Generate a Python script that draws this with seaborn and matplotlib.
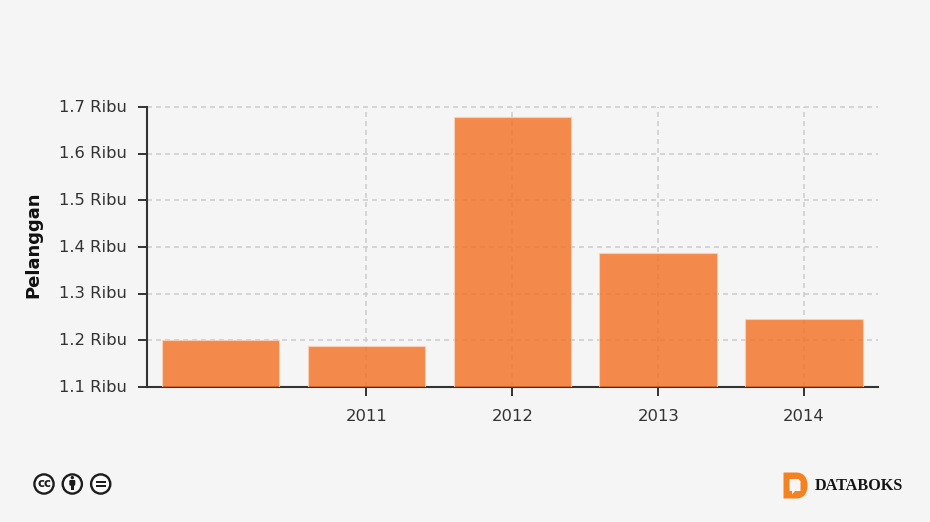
"""Pelanggan per tahun, bar chart in databoks style."""

import matplotlib.pyplot as plt
import pandas as pd
import seaborn as sns
from matplotlib.patches import Circle, FancyBboxPatch, PathPatch, Polygon, Rectangle
from matplotlib.path import Path
from matplotlib.transforms import ScaledTranslation

categories = ["2010", "2011", "2012", "2013", "2014"]
values = [1.2, 1.188, 1.678, 1.387, 1.246]
shown_years = ["2011", "2012", "2013", "2014"]
y_ticks = [1.1, 1.2, 1.3, 1.4, 1.5, 1.6, 1.7]
y_labels = ["1.1 Ribu", "1.2 Ribu", "1.3 Ribu", "1.4 Ribu", "1.5 Ribu", "1.6 Ribu", "1.7 Ribu"]

BG = "#f5f5f5"
W, H = 930, 522


def px_rect(x0, y0, x1, y1):
    return [x0 / W, 1 - y1 / H, (x1 - x0) / W, (y1 - y0) / H]


def draw_cc_icons(fig):
    # overlay axes in pixel coordinates, y pointing down
    ov = fig.add_axes([0, 0, 1, 1], zorder=5)
    ov.set_xlim(0, W)
    ov.set_ylim(H, 0)
    ov.axis("off")
    ink = "#1c1c1c"
    for cx in (44, 72.3, 100.7):
        ov.add_patch(Circle((cx, 484), 9.6, fc="#fbfbfb", ec=ink, lw=1.7))
    ov.text(44, 483.4, "cc", ha="center", va="center", fontsize=8.5, fontweight="bold", color=ink)
    ov.add_patch(Circle((72.3, 477.6), 1.7, fc=ink, ec="none"))
    ov.add_patch(FancyBboxPatch((69.3, 480), 6, 5.6, boxstyle="round,pad=0,rounding_size=1", fc=ink, ec="none"))
    ov.add_patch(Rectangle((70.6, 484), 3.4, 6.4, fc=ink, ec="none"))
    ov.add_patch(Rectangle((95.6, 481), 10.2, 1.9, fc=ink, ec="none"))
    ov.add_patch(Rectangle((95.6, 485), 10.2, 1.9, fc=ink, ec="none"))
    return ov


def draw_logo(ov):
    orange = "#f58220"
    d_shape = Path(
        [(783.5, 472.5), (796, 472.5), (804, 472.5), (807.5, 478), (807.5, 485.5),
         (807.5, 493), (804, 498.5), (796, 498.5), (783.5, 498.5), (783.5, 472.5)],
        [Path.MOVETO, Path.LINETO, Path.CURVE4, Path.CURVE4, Path.CURVE4,
         Path.CURVE4, Path.CURVE4, Path.CURVE4, Path.LINETO, Path.CLOSEPOLY],
    )
    ov.add_patch(PathPatch(d_shape, fc=orange, ec="none"))
    ov.add_patch(Polygon(
        [(789.5, 479), (798.5, 479), (800.5, 481), (800.5, 491), (795, 491), (792, 494.5), (792, 491), (789.5, 491)],
        closed=True, fc=BG, ec="none",
    ))
    ov.text(815, 485.7, "DATABOKS", ha="left", va="center", fontsize=11.7, fontweight="bold",
            family="Liberation Serif", color="#151515")


def main():
    sns.set_theme(style="ticks")
    plt.rcParams["font.family"] = ["DejaVu Sans"]

    df = pd.DataFrame({"tahun": categories, "pelanggan": values})

    fig = plt.figure(figsize=(9.3, 5.22), dpi=100, facecolor=BG)
    ax = fig.add_axes(px_rect(147, 107, 878, 387), facecolor=BG)

    sns.barplot(data=df, x="tahun", y="pelanggan", color="#f37021", alpha=0.8, width=0.805,
                saturation=1, edgecolor="#fbd3ba", linewidth=0.8, ax=ax, zorder=3)

    ax.set_xlim(-0.504, 4.507)
    ax.set_ylim(y_ticks[0], y_ticks[-1])
    ax.set_xticks(range(1, len(categories)), shown_years)
    ax.set_yticks(y_ticks, y_labels)
    ax.set_axisbelow(True)
    ax.grid(True, axis="both", color="#cfcfcf", lw=1.2, ls=(0, (3, 2.4)), clip_on=False)
    ax.tick_params(axis="both", length=6.5, width=1.4, color="#333333", labelcolor="#333333", labelsize=11.8)
    ax.tick_params(axis="x", pad=9)
    ax.tick_params(axis="y", pad=8.2)
    ax.set_xlabel("")
    ax.set_ylabel("Pelanggan", fontsize=13, fontweight="bold", color="#111111")
    ax.yaxis.set_label_coords(-0.1436, 0.507)
    sns.despine(ax=ax)
    for side in ("left", "bottom"):
        ax.spines[side].set_linewidth(1.5)
        ax.spines[side].set_color("#333333")
    # labels sit a pixel higher than matplotlib centres them
    up = ScaledTranslation(0, 1.2 / 100, fig.dpi_scale_trans)
    for lbl in ax.get_yticklabels():
        lbl.set_transform(lbl.get_transform() + up)

    ov = draw_cc_icons(fig)
    draw_logo(ov)

    fig.savefig("out.png", dpi=100, facecolor=BG)
    plt.close(fig)


if __name__ == "__main__":
    main()
